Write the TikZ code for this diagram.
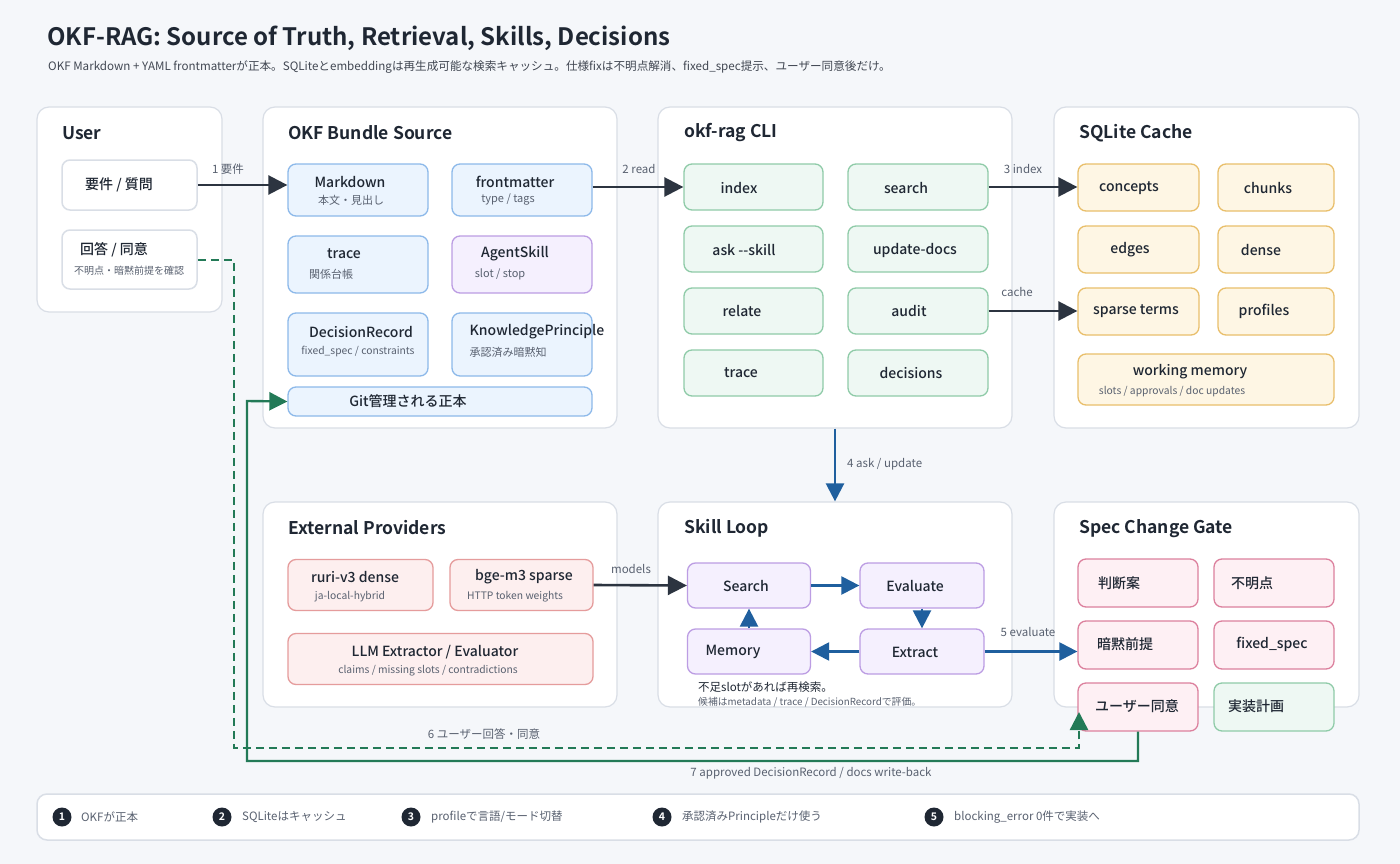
\documentclass[tikz,border=0pt]{standalone}
\usepackage{fontspec}
\setmainfont{Noto Sans CJK JP}[BoldFont={Noto Sans CJK JP Bold}]
\newfontfamily\medfont{Noto Sans CJK JP Medium}
\usetikzlibrary{arrows.meta,calc}
\newcommand\myfs[1]{\fontsize{#1}{#1}\selectfont}
\definecolor{bg}{HTML}{F5F7FA}
\definecolor{panelbd}{HTML}{D9DEE6}
\definecolor{ink}{HTML}{1F2733}
\definecolor{subink}{HTML}{596170}
\definecolor{darkarrow}{HTML}{2C3440}
\definecolor{bluearrow}{HTML}{1F5F9E}
\definecolor{greenarrow}{HTML}{237A57}
\definecolor{bluefill}{HTML}{EBF4FE}
\definecolor{bluebd}{HTML}{8DB9EA}
\definecolor{purplefill}{HTML}{F5F0FE}
\definecolor{purplebd}{HTML}{BC9DE3}
\definecolor{greenfill}{HTML}{EEF8F3}
\definecolor{greenbd}{HTML}{8FCBA8}
\definecolor{yellowfill}{HTML}{FEF6E4}
\definecolor{yellowbd}{HTML}{E9BF6B}
\definecolor{redfill}{HTML}{FDEFEF}
\definecolor{redbd}{HTML}{E59C9C}
\definecolor{pinkfill}{HTML}{FEF0F4}
\definecolor{pinkbd}{HTML}{DC809D}
\definecolor{legendbd}{HTML}{CDD3DC}
\tikzset{
  panel/.style={draw=panelbd, fill=white, rounded corners=12pt, line width=1.2pt, inner sep=0pt},
  bx/.style={rounded corners=8pt, line width=1.3pt, inner sep=0pt},
  bluebox/.style={bx, draw=bluebd, fill=bluefill},
  purplebox/.style={bx, draw=purplebd, fill=purplefill},
  greenbox/.style={bx, draw=greenbd, fill=greenfill},
  yellowbox/.style={bx, draw=yellowbd, fill=yellowfill},
  redbox/.style={bx, draw=redbd, fill=redfill},
  pinkbox/.style={bx, draw=pinkbd, fill=pinkfill},
  whitebox/.style={bx, draw=panelbd, fill=white, line width=1.5pt},
  ptitle/.style={anchor=west, inner sep=0pt, font=\bfseries\myfs{17.5}, text=ink},
  nt/.style={inner sep=0pt, font=\medfont\myfs{14}, text=ink},
  ns/.style={inner sep=0pt, font=\myfs{11}, text=subink},
  lbl/.style={inner sep=0pt, font=\myfs{11.5}, text=subink},
  darr/.style={draw=darkarrow, line width=2.6pt, -{Triangle[length=19pt,width=19pt]}},
  barr/.style={draw=bluearrow, line width=2.4pt, -{Triangle[length=18pt,width=18pt]}},
  garr/.style={draw=greenarrow, line width=2.4pt, -{Triangle[length=18pt,width=18pt]}},
  dot/.style={circle, fill=ink, minimum size=19pt, inner sep=0pt, text=white, font=\bfseries\myfs{10.5}},
  legt/.style={anchor=west, inner sep=0pt, font=\myfs{11.5}, text=subink},
}
\begin{document}
\begin{tikzpicture}[x=1pt,y=-1pt]
\fill[bg] (0,0) rectangle (1400,864);
\useasboundingbox (0,0) rectangle (1400,864);

% title
\node[anchor=west, inner sep=0pt, font=\bfseries\myfs{24}, text=ink] (title) at (47,38) {OKF-RAG: Source of Truth, Retrieval, Skills, Decisions};
\node[anchor=west, inner sep=0pt, font=\myfs{11.6}, text=ink!85] (subtitle) at (48,67) {OKF Markdown + YAML frontmatterが正本。SQLiteとembeddingは再生成可能な検索キャッシュ。仕様fixは不明点解消、fixed\_spec提示、ユーザー同意後だけ。};

% panels
\node[panel, minimum width=185pt, minimum height=205pt] (pUser) at (129.5,209.5) {};
\node[panel, minimum width=354pt, minimum height=321pt] (pOkf) at (440,267.5) {};
\node[panel, minimum width=354pt, minimum height=321pt] (pCli) at (835,267.5) {};
\node[panel, minimum width=305pt, minimum height=321pt] (pSql) at (1206.5,267.5) {};
\node[panel, minimum width=354pt, minimum height=205pt] (pExt) at (440,604.5) {};
\node[panel, minimum width=354pt, minimum height=205pt] (pLoop) at (835,604.5) {};
\node[panel, minimum width=305pt, minimum height=205pt] (pGate) at (1206.5,604.5) {};

\node[ptitle] (tUser) at (62,133) {User};
\node[ptitle] (tOkf) at (288,133) {OKF Bundle Source};
\node[ptitle] (tCli) at (684,133) {okf-rag CLI};
\node[ptitle] (tSql) at (1079,133) {SQLite Cache};
\node[ptitle] (tExt) at (288,528) {External Providers};
\node[ptitle] (tLoop) at (684,528) {Skill Loop};
\node[ptitle] (tGate) at (1079,529) {Spec Change Gate};

% User
\node[whitebox, minimum width=135pt, minimum height=50pt] (req) at (129.5,185) {};
\node[nt] (req-t) at (119,185) {要件 / 質問};
\node[whitebox, minimum width=135pt, minimum height=59pt] (ans) at (129.5,259.5) {};
\node[nt] (ans-t) at (114,250) {回答 / 同意};
\node[ns, font=\myfs{10}] (ans-s) at (129,271) {不明点・暗黙前提を確認};

% OKF bundle
\node[bluebox, minimum width=140pt, minimum height=52pt] (md) at (358,190) {};
\node[nt] (md-t) at (350,182) {Markdown};
\node[ns] (md-s) at (351,200) {本文・見出し};
\node[bluebox, minimum width=140pt, minimum height=52pt] (fm) at (522,190) {};
\node[nt] (fm-t) at (515,182) {frontmatter};
\node[ns] (fm-s) at (508,200) {type / tags};
\node[bluebox, minimum width=140pt, minimum height=57pt] (tr) at (358,264.5) {};
\node[nt] (tr-t) at (344,254) {trace};
\node[ns] (tr-s) at (331,274) {関係台帳};
\node[purplebox, minimum width=140pt, minimum height=57pt] (sk) at (522,264.5) {};
\node[nt] (sk-t) at (515,254) {AgentSkill};
\node[ns] (sk-s) at (500,274) {slot / stop};
\node[bluebox, minimum width=140pt, minimum height=63pt] (dr) at (358,344.5) {};
\node[nt] (dr-t) at (361,332) {DecisionRecord};
\node[ns, font=\myfs{10.3}] (dr-s) at (358,352) {fixed\_spec / constraints};
\node[bluebox, minimum width=140pt, minimum height=63pt] (kp) at (522,344.5) {};
\node[nt] (kp-t) at (537,332) {KnowledgePrinciple};
\node[ns] (kp-s) at (508,352) {承認済み暗黙知};
\node[bluebox, minimum width=304pt, minimum height=29pt] (git) at (440,401.5) {};
\node[nt] (git-t) at (408,401) {Git管理される正本};

% CLI
\node[greenbox, minimum width=139pt, minimum height=46pt] (cIndex) at (753.5,187) {};
\node[nt] (cIndex-t) at (739,188) {index};
\node[greenbox, minimum width=140pt, minimum height=46pt] (cSearch) at (918,187) {};
\node[nt] (cSearch-t) at (906,188) {search};
\node[greenbox, minimum width=139pt, minimum height=46pt] (cAsk) at (753.5,249) {};
\node[nt] (cAsk-t) at (744,250) {ask --skill};
\node[greenbox, minimum width=140pt, minimum height=46pt] (cUpd) at (918,249) {};
\node[nt] (cUpd-t) at (915,250) {update-docs};
\node[greenbox, minimum width=139pt, minimum height=46pt] (cRel) at (753.5,311) {};
\node[nt] (cRel-t) at (742,311) {relate};
\node[greenbox, minimum width=140pt, minimum height=46pt] (cAudit) at (918,311) {};
\node[nt] (cAudit-t) at (909,311) {audit};
\node[greenbox, minimum width=139pt, minimum height=46pt] (cTrace) at (753.5,373) {};
\node[nt] (cTrace-t) at (741,373) {trace};
\node[greenbox, minimum width=140pt, minimum height=46pt] (cDec) at (918,373) {};
\node[nt] (cDec-t) at (911,373) {decisions};

% SQLite
\node[yellowbox, minimum width=121pt, minimum height=47pt] (sConc) at (1138.5,187.5) {};
\node[nt] (sConc-t) at (1129,188) {concepts};
\node[yellowbox, minimum width=116pt, minimum height=47pt] (sChunk) at (1276,187.5) {};
\node[nt] (sChunk-t) at (1268,188) {chunks};
\node[yellowbox, minimum width=121pt, minimum height=47pt] (sEdge) at (1138.5,249.5) {};
\node[nt] (sEdge-t) at (1130,250) {edges};
\node[yellowbox, minimum width=116pt, minimum height=47pt] (sDense) at (1276,249.5) {};
\node[nt] (sDense-t) at (1261,250) {dense};
\node[yellowbox, minimum width=121pt, minimum height=47pt] (sSparse) at (1138.5,311.5) {};
\node[nt] (sSparse-t) at (1136,311) {sparse terms};
\node[yellowbox, minimum width=116pt, minimum height=47pt] (sProf) at (1276,311.5) {};
\node[nt] (sProf-t) at (1264,311) {profiles};
\node[yellowbox, minimum width=256pt, minimum height=51pt] (sWork) at (1206,379.5) {};
\node[nt] (sWork-t) at (1190,372) {working memory};
\node[ns, font=\myfs{10.3}] (sWork-s) at (1172,392) {slots / approvals / doc updates};

% External providers
\node[redbox, minimum width=145pt, minimum height=51pt] (eRuri) at (360.5,585) {};
\node[nt] (eRuri-t) at (355,577) {ruri-v3 dense};
\node[ns, font=\myfs{10.3}] (eRuri-s) at (350,597) {ja-local-hybrid};
\node[redbox, minimum width=143pt, minimum height=51pt] (eBge) at (521.5,585) {};
\node[nt] (eBge-t) at (524,577) {bge-m3 sparse};
\node[ns, font=\myfs{10.3}] (eBge-s) at (515,597) {HTTP token weights};
\node[redbox, minimum width=305pt, minimum height=51pt] (eLlm) at (440.5,659) {};
\node[nt] (eLlm-t) at (435,652) {LLM Extractor / Evaluator};
\node[ns, font=\myfs{10.3}] (eLlm-s) at (428,671) {claims / missing slots / contradictions};

% Skill loop
\node[purplebox, minimum width=123pt, minimum height=45pt] (lSearch) at (749,585.5) {};
\node[nt] (lSearch-t) at (746,586) {Search};
\node[purplebox, minimum width=124pt, minimum height=45pt] (lEval) at (922,585.5) {};
\node[nt] (lEval-t) at (915,586) {Evaluate};
\node[purplebox, minimum width=123pt, minimum height=45pt] (lMem) at (749,651.5) {};
\node[nt] (lMem-t) at (733,652) {Memory};
\node[purplebox, minimum width=124pt, minimum height=45pt] (lExt) at (922,651.5) {};
\node[nt] (lExt-t) at (915,652) {Extract};
\node[anchor=west, inner sep=0pt, font=\myfs{11.5}, text=ink] (note1) at (698,687) {不足slotがあれば再検索。};
\node[anchor=west, inner sep=0pt, font=\myfs{9.8}, text=subink] (note2) at (698,702) {候補はmetadata / trace / DecisionRecordで評価。};

% Spec change gate
\node[pinkbox, minimum width=120pt, minimum height=48pt] (gJud) at (1138,583) {};
\node[nt] (gJud-t) at (1119,583) {判断案};
\node[pinkbox, minimum width=120pt, minimum height=48pt] (gUnk) at (1274,583) {};
\node[nt] (gUnk-t) at (1252,583) {不明点};
\node[pinkbox, minimum width=120pt, minimum height=48pt] (gImp) at (1138,645) {};
\node[nt] (gImp-t) at (1125,644) {暗黙前提};
\node[pinkbox, minimum width=120pt, minimum height=48pt] (gFix) at (1274,645) {};
\node[nt] (gFix-t) at (1272,644) {fixed\_spec};
\node[pinkbox, minimum width=120pt, minimum height=48pt] (gAgree) at (1138,707) {};
\node[nt] (gAgree-t) at (1137,706) {ユーザー同意};
\node[greenbox, minimum width=120pt, minimum height=48pt] (gPlan) at (1274,707) {};
\node[nt] (gPlan-t) at (1256,706) {実装計画};

% connectors
\draw[darr] (req.east) -- (md.west |- req.east);
\node[lbl] (l1) at (228,169) {1 要件};
\draw[darr] (fm.east |- cIndex.west) -- (cIndex.west);
\node[lbl] (l2) at (639,169) {2 read};
\draw[darr] (cSearch.east) -- (sConc.west |- cSearch.east);
\node[lbl] (l3) at (1023,169) {3 index};
\draw[darr] (cAudit.east) -- (sSparse.west |- cAudit.east);
\node[lbl] (l4c) at (1017,292) {cache};
\draw[barr] (pCli.south) -- (pLoop.north);
\node[lbl, anchor=west] (l4) at (847,464) {4 ask / update};
\draw[darr] (eBge.east) -- (lSearch.west);
\node[lbl] (lm) at (631,569) {models};
\draw[barr] (lSearch.east) -- (lEval.west);
\draw[barr] (lEval.south) -- (lExt.north);
\draw[barr] (lExt.west) -- (lMem.east);
\draw[barr] (lMem.north) -- (lSearch.south);
\draw[barr] (lExt.east) -- (gImp.west |- lExt.east);
\node[lbl] (l5) at (1028,632) {5 evaluate};

\coordinate (dashTip) at (1079,712);
\draw[garr, dashed, dash pattern=on 8pt off 5pt] (ans.east |- 0,260) -| (234,748) -| (dashTip);
\node[lbl] (l6) at (484,734) {6 ユーザー回答・同意};
\draw[garr] (gAgree.south) -- (1138,761) -| (247,401) -- (git.west);
\node[lbl] (l7) at (811,773) {7 approved DecisionRecord / docs write-back};

% legend
\node[whitebox, minimum width=1322pt, minimum height=46pt, rounded corners=10pt] (legend) at (698,817) {};
\node[dot] (d1) at (62,817) {1};
\node[legt] (g1) at (81,817) {OKFが正本};
\node[dot] (d2) at (222,817) {2};
\node[legt] (g2) at (242,817) {SQLiteはキャッシュ};
\node[dot] (d3) at (411,817) {3};
\node[legt] (g3) at (431,817) {profileで言語/モード切替};
\node[dot] (d4) at (662,817) {4};
\node[legt] (g4) at (682,817) {承認済みPrincipleだけ使う};
\node[dot] (d5) at (934,817) {5};
\node[legt] (g5) at (954,817) {blocking\_error 0件で実装へ};
\end{tikzpicture}
\end{document}
